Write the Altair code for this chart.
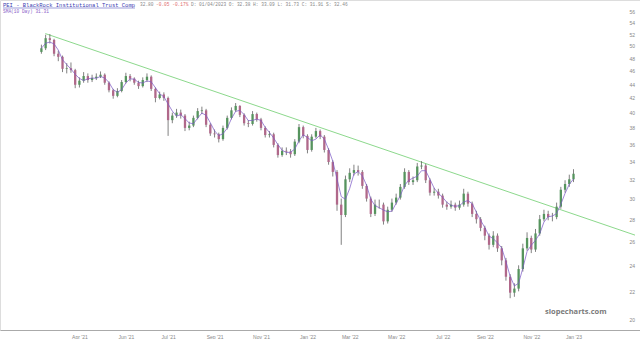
import altair as alt
import pandas as pd

# ---- price bars (~4 trading days per bar) ----
first_open = 49.0
close = [49.6, 51.3, 51.0, 48.7, 48.2, 46.3, 46.4, 46.1, 43.9, 44.5,
         45.2, 44.6, 44.9, 45.1, 45.4, 44.2, 43.1, 42.3, 43.0, 44.3,
         45.2, 44.8, 44.2, 43.7, 44.6, 45.1, 43.3, 42.0, 42.5, 42.0,
         39.0, 39.6, 40.0, 39.6, 38.0, 38.3, 39.3, 40.2, 40.3, 38.4,
         37.3, 37.2, 36.6, 38.0, 39.3, 40.3, 40.9, 39.7, 38.6, 38.5,
         39.8, 39.1, 38.0, 37.1, 37.2, 35.9, 34.7, 35.2, 35.1, 34.8,
         36.3, 38.1, 37.0, 35.3, 36.9, 37.6, 36.9, 35.3, 33.9, 32.8,
         29.4, 28.4, 32.0, 32.7, 33.0, 32.8, 31.3, 30.0, 28.5, 29.4,
         29.4, 27.8, 28.9, 29.6, 30.1, 31.2, 32.8, 31.7, 31.9, 33.4,
         33.5, 31.9, 30.6, 30.7, 30.3, 29.4, 29.2, 29.4, 29.1, 29.4,
         30.5, 29.5, 28.5, 28.0, 27.2, 26.5, 25.7, 26.5, 25.4, 24.4,
         23.1, 21.9, 22.2, 23.7, 25.4, 26.3, 25.3, 26.7, 28.0, 28.5,
         28.2, 28.2, 29.2, 30.9, 31.5, 32.0, 32.6]
high = [50.2, 51.9, 52.0, 51.2, 49.2, 48.4, 47.2, 47.3, 46.3, 45.0,
        45.8, 45.6, 45.4, 45.6, 45.9, 45.6, 44.4, 43.3, 43.4, 44.6,
        45.7, 45.5, 45.0, 44.5, 45.0, 45.6, 45.3, 43.5, 42.9, 42.8,
        42.2, 40.0, 40.5, 40.4, 39.8, 38.8, 39.6, 40.6, 40.8, 40.5,
        38.6, 37.8, 37.4, 38.3, 39.6, 40.7, 41.3, 41.0, 39.9, 39.0,
        40.2, 40.0, 39.3, 38.2, 37.6, 37.4, 36.1, 35.6, 35.6, 35.4,
        36.6, 38.5, 38.3, 37.2, 37.2, 38.0, 37.8, 37.1, 35.5, 34.1,
        33.0, 30.0, 32.4, 33.2, 33.6, 33.5, 33.0, 31.5, 30.2, 29.9,
        29.9, 29.6, 29.2, 30.0, 30.5, 31.5, 33.2, 33.0, 32.3, 33.8,
        34.0, 33.7, 32.1, 31.1, 31.0, 30.5, 29.7, 29.8, 29.6, 29.8,
        31.0, 30.7, 29.7, 28.8, 28.2, 27.4, 26.7, 26.9, 26.7, 25.6,
        24.6, 23.3, 22.6, 24.0, 25.8, 26.8, 26.5, 27.1, 28.4, 28.9,
        28.8, 28.6, 29.6, 31.2, 31.9, 32.5, 33.1]
low = [48.7, 49.3, 50.4, 48.3, 47.5, 45.8, 45.6, 45.7, 43.4, 43.5,
       44.2, 44.2, 44.3, 44.6, 44.9, 43.9, 42.8, 41.9, 42.1, 42.8,
       44.1, 44.4, 43.9, 43.3, 43.5, 44.3, 43.0, 41.4, 41.8, 41.6,
       37.0, 38.6, 39.3, 39.2, 37.6, 37.7, 38.1, 39.1, 39.8, 38.1,
       37.0, 36.8, 36.2, 36.4, 37.8, 39.1, 40.1, 39.4, 38.3, 38.1,
       38.3, 38.8, 37.7, 36.8, 36.8, 35.6, 34.4, 34.5, 34.7, 34.4,
       34.6, 36.1, 36.7, 34.9, 35.1, 36.7, 36.6, 35.0, 33.6, 32.3,
       28.8, 25.7, 28.2, 31.7, 32.4, 32.4, 31.0, 29.7, 28.2, 28.3,
       29.0, 27.5, 27.6, 28.7, 29.4, 29.9, 31.0, 31.4, 31.4, 31.7,
       33.1, 31.6, 30.3, 30.3, 30.0, 29.1, 28.9, 29.0, 28.8, 28.9,
       29.2, 29.2, 28.2, 27.6, 26.9, 26.1, 25.3, 25.5, 25.1, 24.0,
       22.8, 21.5, 21.6, 22.0, 23.5, 25.2, 25.0, 25.1, 26.5, 27.8,
       27.9, 27.8, 28.0, 29.0, 30.6, 31.2, 31.7]

# ---- axis ticks ----
x_tick_bars = [9, 20, 30, 41, 52, 63, 73, 84, 95, 105, 116, 126]
x_tick_labels = ["Apr '21", "Jun '21", "Jul '21", "Sep '21", "Nov '21", "Jan '22",
                 "Mar '22", "May '22", "Jul '22", "Sep '22", "Nov '22", "Jan '23"]
y_ticks = list(range(20, 57, 2))

# ---- trend line endpoints ----
trend_bar = [0.93, 140.56]
trend_val = [52.1, 26.55]

# ---- header texts ----
h_name = "PEI - BlackRock Institutional Trust Comp"
h_last = "32.80"
h_chg = "-0.05 -0.17%"
h_info = "D: 01/04/2023 O: 32.38 H: 33.09 L: 31.73 C: 31.91 S: 32.46"
h_sma = "SMA(10 Day) 31.31"
watermark = "slopecharts.com"

opens = [first_open] + close[:-1]
df = pd.DataFrame({
    "bar": list(range(len(close))),
    "open": opens, "high": high, "low": low, "close": close,
})
df["dir"] = ["up" if c >= o else "down" for o, c in zip(opens, close)]
tl = pd.DataFrame({"bar": trend_bar, "val": trend_val})

XDOM = [-8.62, 140.56]
YDOM = [19.33, 58.29]

label_expr = " : ".join(
    f'datum.value == {b} ? "{t}"' for b, t in zip(x_tick_bars, x_tick_labels)
) + ' : ""'

xs = alt.Scale(domain=XDOM, nice=False, zero=False)
ys = alt.Scale(type="log", domain=YDOM, nice=False)

x_axis = alt.Axis(values=x_tick_bars, labelExpr=label_expr, title=None, grid=False,
                  ticks=False, tickSize=0, domain=True, domainColor="#aaaaaa",
                  labelFontSize=5, labelColor="#888888", labelPadding=4,
                  labelFont="Liberation Sans")
y_axis = alt.Axis(values=y_ticks, orient="right", title=None, grid=False, ticks=False,
                  tickSize=0, domain=False, offset=-11, labelPadding=0,
                  labelFontSize=5, labelColor="#888888", labelAlign="left",
                  labelFont="Liberation Sans")

base = alt.Chart(df)

wicks = base.mark_rule(strokeWidth=0.7, color="#4a4a4a").encode(
    x=alt.X("bar:Q", scale=xs, axis=x_axis),
    y=alt.Y("low:Q", scale=ys, axis=y_axis),
    y2="high:Q",
)
bodies = base.mark_bar(size=2.3).encode(
    x=alt.X("bar:Q", scale=xs),
    y=alt.Y("open:Q", scale=ys),
    y2="close:Q",
    color=alt.Color("dir:N", scale=alt.Scale(domain=["up", "down"],
                                             range=["#56945e", "#b0688a"]), legend=None),
)
sma = base.transform_window(
    sma="mean(close)", frame=[-2, 0], sort=[alt.SortField("bar")]
).mark_line(strokeWidth=0.8, color="#7a58c6", opacity=0.9).encode(
    x=alt.X("bar:Q", scale=xs),
    y=alt.Y("sma:Q", scale=ys),
)
trend = alt.Chart(tl).mark_line(strokeWidth=0.9, color="#7fd47f", clip=True).encode(
    x=alt.X("bar:Q", scale=xs),
    y=alt.Y("val:Q", scale=ys),
)


def txt(s, x, y, color, size=4.5, weight="normal", font="Liberation Mono"):
    return alt.Chart(pd.DataFrame({"t": [s]})).mark_text(
        align="left", baseline="middle", font=font, fontSize=size,
        color=color, fontWeight=weight
    ).encode(text="t:N", x=alt.value(x), y=alt.value(y))


underline = alt.Chart(pd.DataFrame({"t": [h_name]})).mark_rule(
    color="#3a3ab0", strokeWidth=0.5
).encode(x=alt.value(3), x2=alt.value(135), y=alt.value(8))

texts = [
    txt(h_name, 3, 5, "#3a3ab0", size=5.5),
    txt(h_last, 140, 5, "#888888"),
    txt(h_chg, 156, 5, "#e06a6a"),
    txt(h_info, 191, 5, "#888888"),
    txt(h_sma, 3, 12, "#8a62c8"),
    txt(watermark, 545, 312, "#7a7a7a", size=7.5, weight="bold", font="Open Sans"),
]

chart = alt.layer(trend, wicks, bodies, sma, underline, *texts).properties(
    width=640, height=330, padding=0
).configure_view(stroke=None).configure(background="white")

chart.save("out.html", embed_options={"renderer": "svg", "actions": False})
